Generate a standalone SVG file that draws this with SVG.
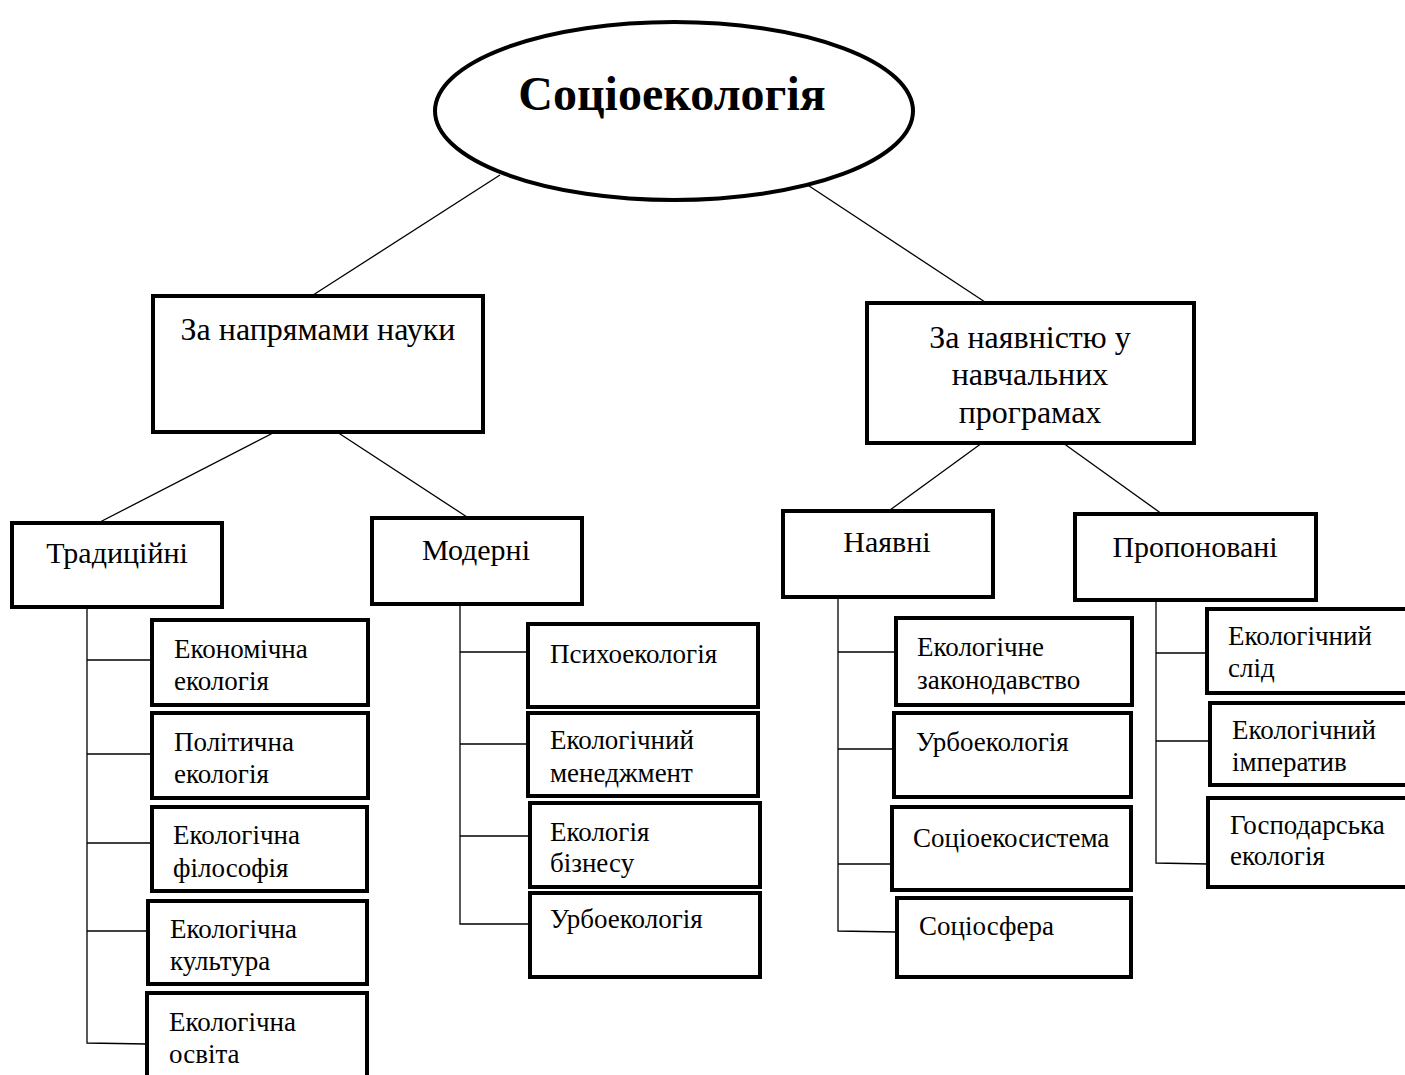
<svg xmlns="http://www.w3.org/2000/svg" width="1405" height="1075" viewBox="0 0 1405 1075">
<style>
.bx{fill:#fff;stroke:#000;stroke-width:4}
.ln{fill:none;stroke:#000;stroke-width:1.3}
text{font-family:"Liberation Serif","Times New Roman",serif;fill:#000}
.t1{font-size:32px;text-anchor:middle}
.t2{font-size:30px;text-anchor:middle}
.lf{font-size:27px}
</style>
<rect width="1405" height="1075" fill="#fff"/>
<g id="connectors">
<line class="ln" x1="500" y1="175" x2="310" y2="297"/>
<line class="ln" x1="797" y1="178" x2="985" y2="302"/>
<line class="ln" x1="275" y1="432" x2="100" y2="522"/>
<line class="ln" x1="337" y1="432" x2="467" y2="517"/>
<line class="ln" x1="982" y1="443" x2="890" y2="510"/>
<line class="ln" x1="1063" y1="443" x2="1162" y2="514"/>
<polyline class="ln" points="87,607 87,1043 147,1044"/>
<line class="ln" x1="87" y1="660" x2="152" y2="660"/>
<line class="ln" x1="87" y1="754" x2="152" y2="754"/>
<line class="ln" x1="87" y1="843" x2="152" y2="843"/>
<line class="ln" x1="87" y1="931" x2="148" y2="931"/>
<polyline class="ln" points="460,604 460,924 530,924"/>
<line class="ln" x1="460" y1="652" x2="528" y2="652"/>
<line class="ln" x1="460" y1="744" x2="528" y2="744"/>
<line class="ln" x1="460" y1="836" x2="530" y2="836"/>
<polyline class="ln" points="838,597 838,931 897,932"/>
<line class="ln" x1="838" y1="652" x2="896" y2="652"/>
<line class="ln" x1="838" y1="749" x2="894" y2="749"/>
<line class="ln" x1="838" y1="864" x2="892" y2="864"/>
<polyline class="ln" points="1156,600 1156,863 1208,864"/>
<line class="ln" x1="1156" y1="653" x2="1207" y2="653"/>
<line class="ln" x1="1156" y1="741" x2="1210" y2="741"/>
</g>
<g id="root">
<ellipse cx="674" cy="111" rx="239" ry="89" fill="#fff" stroke="#000" stroke-width="4"/>
<text x="672" y="110" font-size="48" font-weight="bold" text-anchor="middle">Соціоекологія</text>
</g>
<g id="science">
<rect class="bx" x="153" y="296" width="330" height="136"/>
<text class="t1" x="318" y="340">За напрямами науки</text>
</g>
<g id="programs">
<rect class="bx" x="867" y="303" width="327" height="140"/>
<text class="t1" x="1030" y="348">За наявністю у</text>
<text class="t1" x="1030" y="385">навчальних</text>
<text class="t1" x="1030" y="423">програмах</text>
</g>
<g id="traditional">
<rect class="bx" x="12" y="523" width="210" height="84"/>
<text class="t2" x="117" y="563">Традиційні</text>
</g>
<g id="modern">
<rect class="bx" x="372" y="518" width="210" height="86"/>
<text class="t2" x="476" y="560">Модерні</text>
</g>
<g id="existing">
<rect class="bx" x="783" y="511" width="210" height="86"/>
<text class="t2" x="887" y="552">Наявні</text>
</g>
<g id="proposed">
<rect class="bx" x="1075" y="514" width="241" height="86"/>
<text class="t2" x="1195" y="557">Пропоновані</text>
</g>
<g id="t1">
<rect class="bx" x="152" y="620" width="216" height="85"/>
<text class="lf" x="174" y="658">Економічна</text>
<text class="lf" x="174" y="690">екологія</text>
</g>
<g id="t2">
<rect class="bx" x="152" y="713" width="216" height="85"/>
<text class="lf" x="174" y="751">Політична</text>
<text class="lf" x="174" y="783">екологія</text>
</g>
<g id="t3">
<rect class="bx" x="152" y="807" width="215" height="84"/>
<text class="lf" x="173" y="844">Екологічна</text>
<text class="lf" x="173" y="877">філософія</text>
</g>
<g id="t4">
<rect class="bx" x="148" y="901" width="219" height="83"/>
<text class="lf" x="170" y="938">Екологічна</text>
<text class="lf" x="170" y="970">культура</text>
</g>
<g id="t5">
<rect class="bx" x="147" y="993" width="220" height="100"/>
<text class="lf" x="169" y="1031">Екологічна</text>
<text class="lf" x="169" y="1063">освіта</text>
</g>
<g id="m1">
<rect class="bx" x="528" y="624" width="230" height="83"/>
<text class="lf" x="550" y="663">Психоекологія</text>
</g>
<g id="m2">
<rect class="bx" x="528" y="713" width="230" height="83"/>
<text class="lf" x="550" y="749">Екологічний</text>
<text class="lf" x="550" y="782">менеджмент</text>
</g>
<g id="m3">
<rect class="bx" x="530" y="803" width="230" height="84"/>
<text class="lf" x="550" y="841">Екологія</text>
<text class="lf" x="550" y="872">бізнесу</text>
</g>
<g id="m4">
<rect class="bx" x="530" y="893" width="230" height="84"/>
<text class="lf" x="550" y="928">Урбоекологія</text>
</g>
<g id="e1">
<rect class="bx" x="896" y="618" width="236" height="87"/>
<text class="lf" x="917" y="656">Екологічне</text>
<text class="lf" x="917" y="689">законодавство</text>
</g>
<g id="e2">
<rect class="bx" x="894" y="713" width="237" height="84"/>
<text class="lf" x="916" y="751">Урбоекологія</text>
</g>
<g id="e3">
<rect class="bx" x="892" y="807" width="239" height="83"/>
<text class="lf" x="913" y="847">Соціоекосистема</text>
</g>
<g id="e4">
<rect class="bx" x="897" y="898" width="234" height="79"/>
<text class="lf" x="919" y="935">Соціосфера</text>
</g>
<g id="p1">
<rect class="bx" x="1207" y="609" width="210" height="84"/>
<text class="lf" x="1228" y="645">Екологічний</text>
<text class="lf" x="1228" y="677">слід</text>
</g>
<g id="p2">
<rect class="bx" x="1210" y="703" width="210" height="82"/>
<text class="lf" x="1232" y="739">Екологічний</text>
<text class="lf" x="1232" y="771">імператив</text>
</g>
<g id="p3">
<rect class="bx" x="1208" y="798" width="210" height="89"/>
<text class="lf" x="1230" y="834">Господарська</text>
<text class="lf" x="1230" y="865">екологія</text>
</g>
</svg>
